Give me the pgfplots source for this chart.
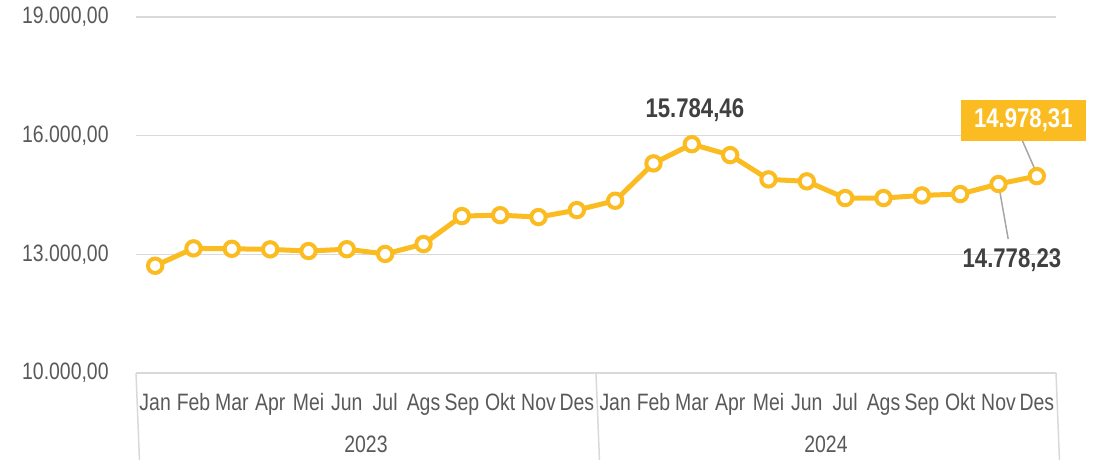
\documentclass[border=0pt]{standalone}
\usepackage{pgfplots}
\pgfplotsset{compat=1.18}
\usepackage{fontspec}
\setmainfont{Liberation Sans}[FakeStretch=0.82]
\definecolor{txt}{HTML}{595959}
\definecolor{dark}{HTML}{404040}
\definecolor{grid}{HTML}{D9D9D9}
\definecolor{gold}{HTML}{FBBC22}
\definecolor{lead}{HTML}{A6A6A6}
\pgfplotstableread{
x y
0 12711
1 13151
2 13140
3 13126
4 13083
5 13130
6 13010
7 13260
8 13968
9 13990
10 13942
11 14119
12 14355
13 15300
14 15784.46
15 15509
16 14895
17 14845
18 14423
19 14423
20 14490
21 14524
22 14778.23
23 14978.31
}\datatable
\begin{document}
\begin{tikzpicture}
\path[use as bounding box] (-68pt,-43.5pt) rectangle (484pt,186.5pt);
\begin{axis}[
  at={(0,0)}, anchor=south west,
  scale only axis, width=460pt, height=178pt,
  xmin=-0.5, xmax=23.5, ymin=10000, ymax=19000,
  clip=false,
  scaled y ticks=false,
  axis line style={draw=none},
  ytick={10000,13000,16000,19000},
  yticklabels={{10.000,00},{13.000,00},{16.000,00},{19.000,00}},
  xtick={0,...,23},
  xticklabels={Jan,Feb,Mar,Apr,Mei,Jun,Jul,Ags,Sep,Okt,Nov,Des,Jan,Feb,Mar,Apr,Mei,Jun,Jul,Ags,Sep,Okt,Nov,Des},
  major tick length=0pt,
  ymajorgrids, major grid style={draw=grid, line width=0.75pt},
  tick label style={font=\fontsize{11.85pt}{14pt}\selectfont, text=txt},
  yticklabel style={anchor=east, inner sep=0pt, xshift=-13.5pt},
  xticklabel style={anchor=base, inner sep=0pt, yshift=-18.5pt},
  /pgf/number format/assume math mode=true,
]
\addplot[draw=gold, line width=2.5pt, mark=*, mark size=3.6pt,
  mark options={fill=white, draw=gold, line width=2pt}] table[x=x,y=y]{\datatable};
% category axis lines
\draw[grid, line width=0.75pt] (axis cs:-0.5,10000) -- (axis cs:23.5,10000);
\draw[grid, line width=0.75pt] (axis cs:-0.5,10000) -- ++(0,-43.5pt);
\draw[grid, line width=0.75pt] (axis cs:11.5,10000) -- ++(0,-43.5pt);
\draw[grid, line width=0.75pt] (axis cs:23.5,10000) -- ++(0,-43.5pt);
\node[text=txt, font=\fontsize{11.85pt}{14pt}\selectfont, inner sep=0pt, anchor=base] at ([yshift=-39.5pt]axis cs:5.5,10000) {2023};
\node[text=txt, font=\fontsize{11.85pt}{14pt}\selectfont, inner sep=0pt, anchor=base] at ([yshift=-39.5pt]axis cs:17.5,10000) {2024};
% annotations
\node[text=dark, font=\fontsize{13.5pt}{16pt}\selectfont\bfseries, inner sep=0pt] at ([xshift=1.5pt,yshift=17pt]axis cs:14,15784.46) {15.784,46};
\draw[lead, line width=0.75pt] ([xshift=-7.15pt,yshift=17.5pt]axis cs:23,14978.31) -- ([xshift=-1pt,yshift=3.5pt]axis cs:23,14978.31);
\node[fill=gold, text=white, font=\fontsize{13.5pt}{16pt}\selectfont\bfseries, inner sep=0pt, minimum width=62.5pt, minimum height=20.5pt] at ([xshift=-6.75pt,yshift=27.75pt]axis cs:23,14978.31) {14.978,31};
\draw[lead, line width=0.75pt] (axis cs:22,14778.23) -- ([xshift=4.85pt,yshift=-27.5pt]axis cs:22,14778.23);
\node[text=dark, font=\fontsize{13.5pt}{16pt}\selectfont\bfseries, inner sep=0pt] at ([xshift=6.7pt,yshift=-38pt]axis cs:22,14778.23) {14.778,23};
\end{axis}
\end{tikzpicture}
\end{document}
